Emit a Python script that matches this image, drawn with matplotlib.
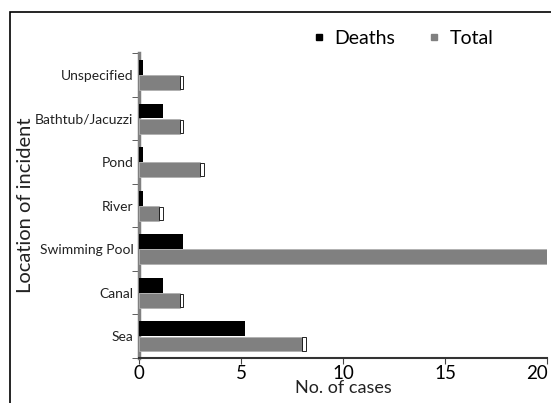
import matplotlib.pyplot as plt
from matplotlib.lines import Line2D
from matplotlib.patches import Rectangle
from matplotlib.transforms import ScaledTranslation

plt.rcParams['font.family'] = ['Lato', 'DejaVu Sans']

locations = ['Sea', 'Canal', 'Swimming Pool', 'River', 'Pond',
             'Bathtub/Jacuzzi', 'Unspecified']
deaths = [5, 1, 2, 0, 0, 1, 0]
totals = [8, 2, 20, 1, 3, 2, 2]

grey = '#808080'
bar_h = 0.34
cap = 0.18

fig = plt.figure(figsize=(5.51, 4.03), dpi=100)
ax = fig.add_axes([0.252, 0.112, 0.741, 0.756])

pos = list(range(len(locations)))
y_d = [p + 0.17 for p in pos]
y_t = [p - 0.18 for p in pos]

# bars plus a small end cap to imitate the 3d look
ax.barh(y_d, deaths, height=bar_h, color='black', zorder=3)
ax.barh(y_d, cap, left=deaths, height=bar_h, color='black', zorder=3)
ax.barh(y_t, totals, height=bar_h, color=grey, edgecolor='#b0b0b0',
        linewidth=0.6, zorder=3)
ax.barh(y_t, cap, left=totals, height=bar_h * 0.9, color='white',
        edgecolor='black', linewidth=0.6, zorder=4)

ax.set_xlim(0, 20)
ax.set_ylim(-0.5, len(locations) - 0.5)
ax.set_xticks([0, 5, 10, 15, 20])
ax.set_yticks(pos)
ax.set_yticklabels(locations, fontsize=10, color='#222222')
ax.set_yticks([p - 0.5 for p in pos] + [len(pos) - 0.5], minor=True)
ax.tick_params(axis='y', which='major', length=0, pad=4)
ax.tick_params(axis='y', which='minor', length=5, color='#444444')
ax.tick_params(axis='x', labelsize=13.5, length=4, color='#444444', pad=1)

# last x label sits right at the figure edge, nudge it in a bit
last = ax.get_xticklabels()[-1]
last.set_transform(last.get_transform()
                   + ScaledTranslation(-10 / 100, 0, fig.dpi_scale_trans))

for s in ['top', 'right']:
    ax.spines[s].set_visible(False)
ax.spines['left'].set_color(grey)
ax.spines['left'].set_linewidth(2.5)
ax.spines['bottom'].set_color('#333333')
ax.spines['bottom'].set_linewidth(1.5)

ax.set_xlabel('No. of cases', fontsize=13, labelpad=-1, color='#222222')
ax.set_ylabel('Location of incident', fontsize=14.5, labelpad=1,
              color='#222222')

handles = [Line2D([], [], marker='s', color='black', ls='', markersize=5),
           Line2D([], [], marker='s', color=grey, ls='', markersize=5)]
fig.legend(handles, ['Deaths', 'Total'], loc='center',
           bbox_to_anchor=(0.73, 0.905), ncol=2, frameon=False,
           fontsize=14, handletextpad=0.4, columnspacing=1.6,
           handlelength=0.8)

# outer frame, cut at right and bottom edges like the source
fig.patches.append(Rectangle((10 / 551, -0.1), 1.2, 1 - 12 / 403 + 0.1,
                             transform=fig.transFigure, fill=False,
                             edgecolor='black', linewidth=1.2))

fig.savefig('out.png', dpi=100)
